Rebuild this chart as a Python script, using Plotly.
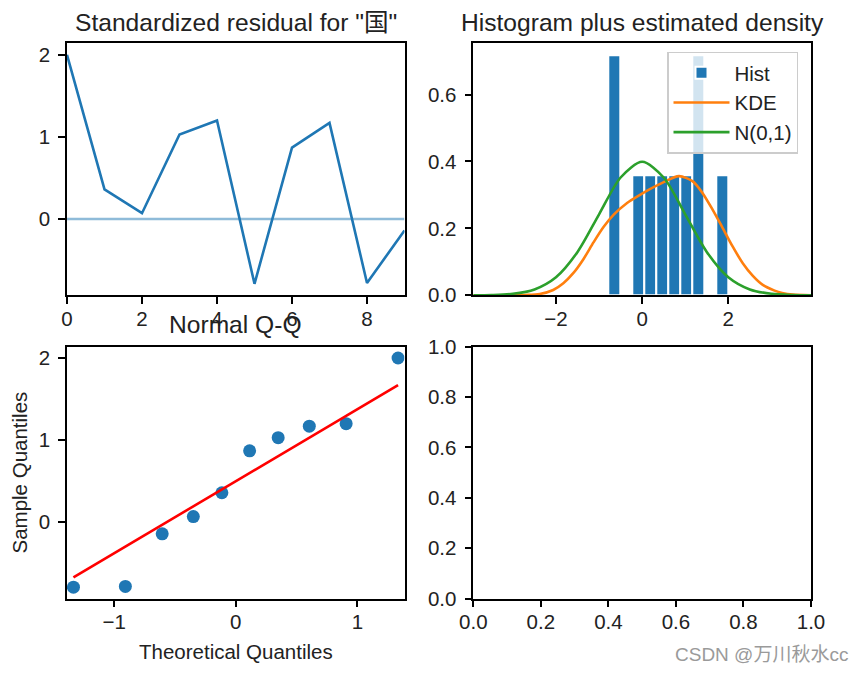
import plotly.graph_objects as go

# ---------------- data ----------------
resid_index = [0, 1, 2, 3, 4, 5, 6, 7, 8, 9]
resid_values = [2.0, 0.36, 0.07, 1.03, 1.20, -0.79, 0.87, 1.17, -0.78, -0.14]

hist_centers = [-0.650, -0.371, -0.092, 0.187, 0.466, 0.745, 1.024, 1.303, 1.582, 1.861]
hist_heights = [0.717, 0.0, 0.358, 0.358, 0.358, 0.358, 0.358, 0.717, 0.0, 0.358]
hist_width = 0.279

kde_x = [-3.92, -3.2, -2.7, -2.376, -2.065, -1.83, -1.60, -1.364, -1.13, -0.897, -0.66,
         -0.35, -0.04, 0.19, 0.467, 0.855, 1.168, 1.40, 1.635, 1.87, 2.10, 2.336, 2.57,
         2.80, 3.075, 3.25, 3.5, 3.92]
kde_y = [0.0, 0.0, 0.001, 0.004, 0.016, 0.036, 0.066, 0.108, 0.158, 0.204, 0.241,
         0.276, 0.301, 0.318, 0.336, 0.356, 0.341, 0.306, 0.256, 0.201, 0.146, 0.096, 0.058,
         0.031, 0.014, 0.007, 0.002, 0.0003]

norm_x = [-3.92, -3.5, -3.0, -2.5, -2.0, -1.5, -1.0, -0.5, 0.0, 0.5, 1.0, 1.5, 2.0,
          2.5, 3.0, 3.5, 3.92]
norm_y = [0.0002, 0.0009, 0.0044, 0.0175, 0.054, 0.1295, 0.242, 0.352, 0.399, 0.352,
          0.242, 0.1295, 0.054, 0.0175, 0.0044, 0.0009, 0.0002]

qq_theoretical = [-1.335, -0.908, -0.605, -0.349, -0.114, 0.114, 0.349, 0.605, 0.908, 1.335]
qq_sample = [-0.79, -0.78, -0.14, 0.07, 0.36, 0.87, 1.03, 1.17, 1.20, 2.0]
qq_line_x = [-1.335, 1.335]
qq_line_y = [-0.67, 1.67]

titles = ['Standardized residual for "国"', "Histogram plus estimated density", "Normal Q-Q"]

# ---------------- figure ----------------
# page body has an 8px default margin; figure is sized to fit inside the 864x676 window
OFF = 8
W, H = 864 - 2 * OFF, 676 - 2 * OFF
C0 = "#1f77b4"
FONT = "Liberation Sans, Arial, Noto Sans CJK SC, sans-serif"
TXT = "#222222"


def fx(px):
    return (px - OFF) / W


def fy(py):
    return 1 - (py - OFF) / H


fig = go.Figure()

fig.add_trace(go.Scatter(x=resid_index, y=resid_values, mode="lines",
                         line=dict(color=C0, width=2.6), showlegend=False,
                         xaxis="x", yaxis="y"))
fig.add_trace(go.Scatter(x=[resid_index[0], resid_index[-1]], y=[0, 0], mode="lines",
                         line=dict(color="rgba(31,119,180,0.5)", width=2.6),
                         showlegend=False, xaxis="x", yaxis="y"))

fig.add_trace(go.Bar(x=hist_centers, y=hist_heights, width=hist_width, name="Hist",
                     marker=dict(color=C0, line=dict(color="white", width=2)),
                     xaxis="x2", yaxis="y2"))
fig.add_trace(go.Scatter(x=kde_x, y=kde_y, mode="lines", name="KDE",
                         line=dict(color="#ff7f0e", width=2.6, shape="spline", smoothing=0.8),
                         xaxis="x2", yaxis="y2"))
fig.add_trace(go.Scatter(x=norm_x, y=norm_y, mode="lines", name="N(0,1)",
                         line=dict(color="#2ca02c", width=2.6, shape="spline", smoothing=0.8),
                         xaxis="x2", yaxis="y2"))

fig.add_trace(go.Scatter(x=qq_theoretical, y=qq_sample, mode="markers",
                         marker=dict(color=C0, size=13, line=dict(width=0)),
                         showlegend=False, xaxis="x3", yaxis="y3"))
fig.add_trace(go.Scatter(x=qq_line_x, y=qq_line_y, mode="lines",
                         line=dict(color="red", width=2.6), showlegend=False,
                         xaxis="x3", yaxis="y3"))

fig.add_trace(go.Scatter(x=[], y=[], showlegend=False, xaxis="x4", yaxis="y4"))

left_dom = [fx(67), fx(404.5)]
right_dom = [fx(473.3), fx(811)]
top_dom = [fy(295.3), fy(43.3)]
bot_dom = [fy(598.7), fy(346.5)]

tickfont = dict(size=20.5, color=TXT, family=FONT)
axis_common = dict(showline=True, mirror=True, linecolor="black", linewidth=1.5,
                   ticks="outside", ticklen=7, tickwidth=1.5, tickcolor="black",
                   showgrid=False, zeroline=False, automargin=False, tickfont=tickfont)
yextra = dict(ticklabelstandoff=4)
xextra = dict(ticklabelstandoff=-3)

fig.update_layout(
    width=W, height=H,
    margin=dict(l=0, r=0, t=0, b=0),
    paper_bgcolor="white", plot_bgcolor="white",
    font=dict(family=FONT, color=TXT),
    bargap=0,
    xaxis=dict(domain=left_dom, anchor="y", range=[0, 9], tickvals=[0, 2, 4, 6, 8],
               **axis_common, **xextra),
    yaxis=dict(domain=top_dom, anchor="x", range=[-0.93, 2.14], tickvals=[0, 1, 2],
               **axis_common, **yextra),
    xaxis2=dict(domain=right_dom, anchor="y2", range=[-3.92, 3.92], tickvals=[-2, 0, 2],
                **axis_common, **xextra),
    yaxis2=dict(domain=top_dom, anchor="x2", range=[0, 0.753], tickvals=[0, 0.2, 0.4, 0.6],
                tickformat=".1f", **axis_common, **yextra),
    xaxis3=dict(domain=left_dom, anchor="y3", range=[-1.388, 1.388], tickvals=[-1, 0, 1],
                **axis_common, **xextra),
    yaxis3=dict(domain=bot_dom, anchor="x3", range=[-0.93, 2.14], tickvals=[0, 1, 2],
                **axis_common, **yextra),
    xaxis4=dict(domain=right_dom, anchor="y4", range=[0, 1], tickvals=[0, 0.2, 0.4, 0.6, 0.8, 1.0],
                tickformat=".1f", **axis_common, **xextra),
    yaxis4=dict(domain=bot_dom, anchor="x4", range=[0, 1], tickvals=[0, 0.2, 0.4, 0.6, 0.8, 1.0],
                tickformat=".1f", **axis_common, **yextra),
    legend=dict(x=fx(667), y=fy(51.5), xanchor="left", yanchor="top",
                bgcolor="rgba(255,255,255,0.8)", bordercolor="#cccccc", borderwidth=1.5,
                itemwidth=56,
                font=dict(size=20.5, color=TXT, family=FONT), tracegroupgap=0),
)

ann = []
ann.append(dict(text=titles[0], x=fx(235.75), y=fy(22.5), xref="paper", yref="paper",
                xanchor="center", yanchor="middle", showarrow=False,
                font=dict(size=24.6, color=TXT, family=FONT)))
ann.append(dict(text=titles[1], x=fx(642.15), y=fy(22.5), xref="paper", yref="paper",
                xanchor="center", yanchor="middle", showarrow=False,
                font=dict(size=24.6, color=TXT, family=FONT)))
ann.append(dict(text=titles[2], x=fx(235.75), y=fy(325), xref="paper", yref="paper",
                xanchor="center", yanchor="middle", showarrow=False,
                font=dict(size=24.6, color=TXT, family=FONT)))
ann.append(dict(text="Sample Quantiles", x=fx(19), y=fy(472.5), xref="paper", yref="paper",
                xanchor="center", yanchor="middle", textangle=-90, showarrow=False,
                borderpad=0,
                font=dict(size=20.5, color=TXT, family=FONT)))
ann.append(dict(text="Theoretical Quantiles", x=fx(236), y=fy(651), xref="paper", yref="paper",
                xanchor="center", yanchor="middle", showarrow=False,
                font=dict(size=20.5, color=TXT, family=FONT)))
ann.append(dict(text="CSDN @万川秋水cc", x=fx(850), y=fy(654), xref="paper", yref="paper",
                xanchor="right", yanchor="middle", showarrow=False,
                font=dict(size=19, color="#9a9a9a", family=FONT)))
fig.update_layout(annotations=ann)

fig.write_html("out.html")
